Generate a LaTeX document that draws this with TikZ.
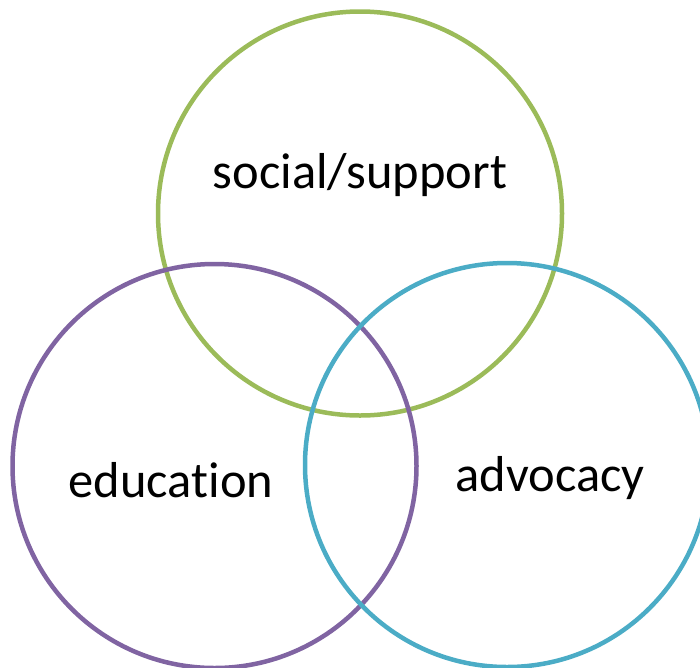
\documentclass[tikz,border=0pt]{standalone}
\usepackage{fontspec}
\setmainfont[Ligatures=NoCommon]{Carlito}
\begin{document}
\begin{tikzpicture}[x=1pt,y=-1pt,
  ring/.style={draw=#1,line width=4.5pt,circle,minimum size=404pt,inner sep=0pt},
  lbl/.style={font=\fontsize{50.5}{60}\selectfont,text=black,inner sep=0pt}]
\useasboundingbox (0,0) rectangle (700,667);
\definecolor{cgreen}{RGB}{155,187,89}
\definecolor{cpurple}{RGB}{128,100,162}
\definecolor{cblue}{RGB}{75,172,198}
\node[ring=cgreen] (social) at (360,213.5) {};
\node[ring=cpurple] (edu) at (214.5,466) {};
\node[ring=cblue] (adv) at (507,465) {};
\node[lbl] (tsocial) at (360,175) {social/support};
\node[lbl] (tedu) at (171,480) {education};
\node[lbl] (tadv) at (550,478) {advocacy};
\end{tikzpicture}
\end{document}
